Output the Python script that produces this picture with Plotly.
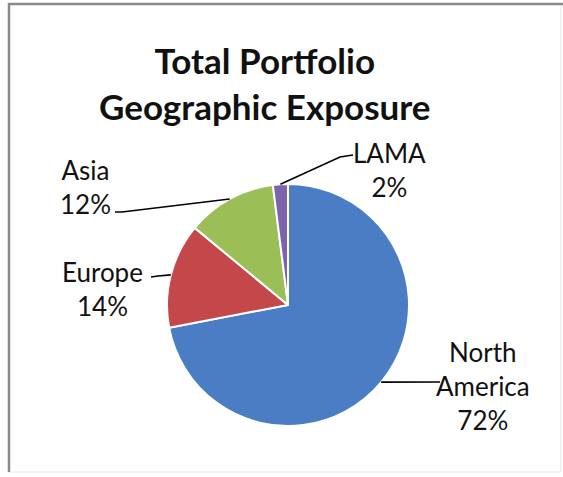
import math
import plotly.graph_objects as go

# Portfolio exposure by region
regions = ["North America", "Europe", "Asia", "LAMA"]
shares = [72, 14, 12, 2]
slice_colors = ["#4A7DC4", "#C4484A", "#9BBE57", "#7D62AC"]

# Label text positions (figure pixels) and leader-line elbows
label_lines = {
    "North America": ["North", "America", "72%"],
    "Europe": ["Europe", "14%"],
    "Asia": ["Asia", "12%"],
    "LAMA": ["LAMA", "2%"],
}
label_pos = {
    "North America": (483, 386),
    "Europe": (102, 289),
    "Asia": (85, 187),
    "LAMA": (389, 170),
}
leader_end = {
    "North America": [(440, 382)],
    "Europe": [(158, 276), (151, 277)],
    "Asia": [(122, 212), (115, 212)],
    "LAMA": [(340, 157), (353, 155)],
}

W, H = 563, 477
cx, cy, R = 288, 305, 121

fig = go.Figure()

fig.add_trace(go.Pie(
    labels=regions,
    values=shares,
    sort=False,
    direction="clockwise",
    rotation=0,
    textinfo="none",
    hoverinfo="label+percent",
    marker=dict(colors=slice_colors, line=dict(color="white", width=2)),
    domain=dict(x=[(cx - R) / W, (cx + R) / W], y=[1 - (cy + R) / H, 1 - (cy - R) / H]),
    showlegend=False,
))

# hidden pixel-coordinate axes for labels and leader lines
fig.add_trace(go.Scatter(x=[0, W], y=[0, H], mode="markers", marker=dict(opacity=0),
                         hoverinfo="skip", showlegend=False))

total = sum(shares)
cum = 0
shapes = []
annotations = []
for name, v in zip(regions, shares):
    mid = (cum + v / 2) / total * 2 * math.pi
    cum += v
    ex = cx + R * math.sin(mid)
    ey = cy - R * math.cos(mid)
    pts = [(ex, ey)] + leader_end[name]
    path = "M " + " L ".join(f"{px:.1f},{py:.1f}" for px, py in pts)
    shapes.append(dict(type="path", path=path, xref="x", yref="y",
                       line=dict(color="black", width=1.6), layer="above"))
    lx, ly = label_pos[name]
    annotations.append(dict(
        x=lx, y=ly, xref="x", yref="y", showarrow=False,
        text="<br>".join(label_lines[name]), align="center",
        font=dict(family="Lato, sans-serif", size=26, color="#111111"),
    ))

# chart frame
shapes.append(dict(type="rect", xref="x", yref="y", x0=9, y0=4, x1=561, y1=472,
                   line=dict(color="#e6e6e6", width=1), layer="below"))
shapes.append(dict(type="path", xref="x", yref="y", path="M 9,472 L 9,4 L 563,4",
                   line=dict(color="#8a8a8a", width=2.5), layer="above"))

annotations.append(dict(
    x=265, y=83, xref="x", yref="y", showarrow=False,
    text="<b>Total Portfolio<br>Geographic Exposure</b>", align="center",
    font=dict(family="Lato, sans-serif", size=35, color="#111111"),
))

fig.update_layout(
    width=W, height=H,
    margin=dict(l=0, r=0, t=0, b=0),
    paper_bgcolor="white", plot_bgcolor="rgba(0,0,0,0)",
    xaxis=dict(range=[0, W], visible=False, fixedrange=True, domain=[0, 1]),
    yaxis=dict(range=[H, 0], visible=False, fixedrange=True, domain=[0, 1]),
    shapes=shapes, annotations=annotations,
)

fig.write_html("out.html")
